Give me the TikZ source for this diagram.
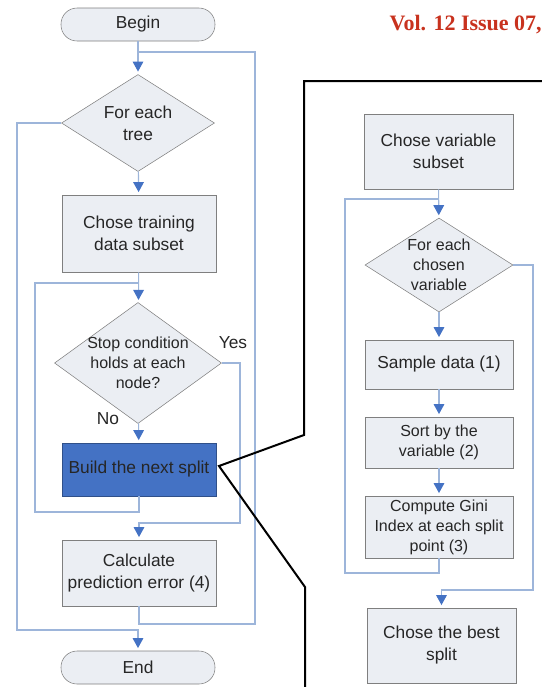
\documentclass[tikz,border=0pt]{standalone}
\usepackage{fontspec}
\setmainfont{Liberation Sans}
\newfontfamily\headfont{Liberation Serif}
\usepackage{xcolor}
\usetikzlibrary{shapes.geometric,arrows.meta}
\definecolor{boxfill}{HTML}{EBEEF3}
\definecolor{boxline}{HTML}{7F7F7F}
\definecolor{linkblue}{HTML}{9DB5DA}
\definecolor{tipblue}{HTML}{4472C4}
\definecolor{buildblue}{HTML}{4472C4}
\definecolor{headred}{HTML}{C8321E}
\tikzset{
    flow-box/.style = {draw=boxline, fill=boxfill, thin, rectangle, inner sep=2pt, align=center, text=black!85, font=\fontsize{13}{16.5}\selectfont},
    flow-start/.style = {flow-box, rounded corners=12pt, minimum width=115.5pt, minimum height=24.75pt},
    flow-diamond/.style = {draw=boxline, fill=boxfill, thin, diamond, inner sep=0pt},
    flow-text/.style = {align=center, inner sep=0pt, text=black!85, font=\fontsize{12}{15}\selectfont},
    flow-line/.style = {draw=linkblue, line width=0.8pt},
    flow-arrow/.style = {flow-line, shorten >=2pt, -{Triangle[width=8pt,length=7.5pt,color=tipblue]}},
    callout-line/.style = {draw=black, line width=1.5pt, line join=miter},
}

\begin{document}
\begin{tikzpicture}[x=0.75pt, y=-0.75pt]
\useasboundingbox (0,0) rectangle (542,687);

% main loop (left)
\node[flow-start] (begin) at (138,24.5) {Begin};
\node[flow-diamond, minimum width=114.75pt, minimum height=72.75pt] (tree) at (138,123) {};
\node[flow-text, font=\fontsize{13}{16.5}\selectfont] (treetext) at (tree) {For each\\tree};
\node[flow-box, minimum width=115.5pt, minimum height=57.75pt] (train) at (139,233.5) {Chose training\\data subset};
\node[flow-diamond, minimum width=125.25pt, minimum height=90.75pt] (stop) at (138,363) {};
\node[flow-text] (stoptext) at (stop) {Stop condition\\holds at each\\node?};
\node[flow-box, fill=buildblue, draw=buildblue!70!black, minimum width=115.5pt, minimum height=39.75pt] (build) at (139,469.5) {Build the next split};
\node[flow-box, minimum width=115.5pt, minimum height=49.5pt] (calc) at (139,573) {Calculate\\prediction error (4)};
\node[flow-start] (end) at (138,667.5) {End};
\node[flow-text, font=\fontsize{13}{16}\selectfont] (yes) at (233,343) {Yes};
\node[flow-text, font=\fontsize{13}{16}\selectfont] (no) at (108,419) {No};

\coordinate (treeret) at (255,52);
\coordinate (treeretb) at (255,624);
\coordinate (treeexit) at (17,630);
\coordinate (splitret) at (35,512);
\coordinate (splitrett) at (35,283);
\coordinate (yesdown) at (240,523);

\draw[flow-arrow] (begin) -- (tree);
\draw[flow-arrow] (tree) -- (train);
\draw[flow-arrow] (train) -- (stop);
\draw[flow-arrow] (stop) -- (build);
\draw[flow-arrow] (stop.east) -| (yesdown) -| (calc.north);
\draw[flow-line] (build.south) |- (splitret) -- (splitrett) -- (splitrett -| train.south);
\draw[flow-line] (calc.south) |- (treeretb) -- (treeret) -- (treeret -| begin.south);
\draw[flow-arrow] (tree.west) -| (treeexit) -| (end.north);

% zoomed split step (right)
\node[flow-box, minimum width=111.75pt, minimum height=56.25pt] (varsub) at (438.5,151.5) {Chose variable\\subset};
\node[flow-diamond, minimum width=111pt, minimum height=70.5pt] (chosen) at (439,265) {};
\node[flow-text] (chosentext) at (chosen) {For each\\chosen\\variable};
\node[flow-box, minimum width=111pt, minimum height=36.75pt] (sample) at (439,364.5) {Sample data (1)};
\node[flow-box, minimum width=111pt, minimum height=38.25pt, font=\fontsize{12}{15}\selectfont] (sort) at (439,442.5) {Sort by the\\variable (2)};
\node[flow-box, minimum width=111pt, minimum height=46.5pt, font=\fontsize{12}{15}\selectfont] (gini) at (439,527) {Compute Gini\\Index at each split\\point (3)};
\node[flow-box, minimum width=111.75pt, minimum height=56.25pt] (best) at (441.5,645.5) {Chose the best\\split};

\coordinate (varret) at (345,573);
\coordinate (varrett) at (345,199);
\coordinate (varexit) at (533,590);

\draw[flow-arrow] (varsub) -- (chosen);
\draw[flow-arrow] (chosen) -- (sample);
\draw[flow-arrow] (sample) -- (sort);
\draw[flow-arrow] (sort) -- (gini);
\draw[flow-line] (gini.south) |- (varret) -- (varrett) -- (varrett -| varsub.south);
\draw[flow-arrow] (chosen.east) -| (varexit) -| (best.north);

% callout frame
\coordinate (calltip) at (219,466);
\draw[callout-line] (542,81) -- (304,81) -- (304,435) -- (calltip) -- (305,587) -- (305,687);

\node[anchor=east, inner sep=0pt, text=headred, font=\headfont\bfseries\fontsize{16.5}{19}\selectfont] (vol) at (542,25) {Vol. 12 Issue 07,};
\end{tikzpicture}
\end{document}
